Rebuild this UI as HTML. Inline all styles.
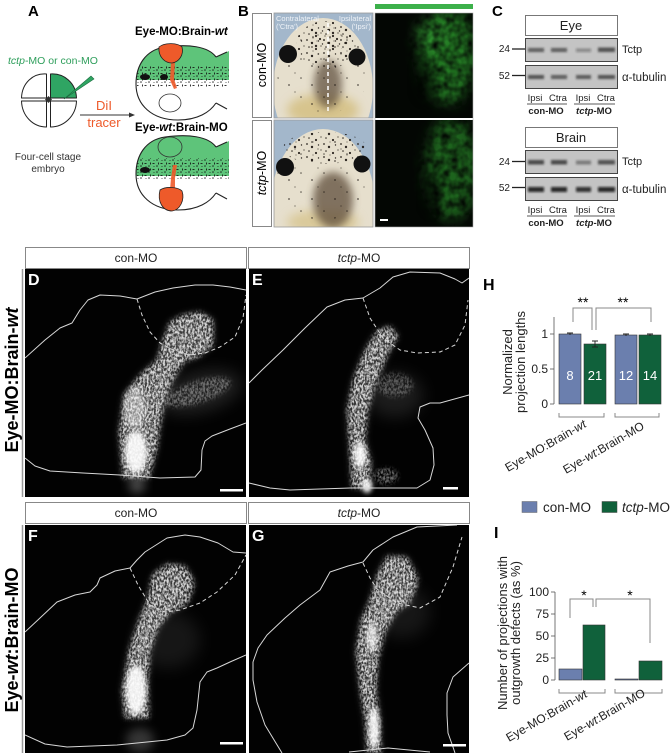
<!DOCTYPE html>
<html><head><meta charset="utf-8"><style>
html,body{margin:0;padding:0;background:#fff;}
svg{display:block;font-family:"Liberation Sans",Arial,sans-serif;}
</style></head><body>
<svg width="670" height="756" viewBox="0 0 670 756" xmlns="http://www.w3.org/2000/svg">
<defs>
 <filter id="tex" x="-30%" y="-30%" width="160%" height="160%">
  <feGaussianBlur in="SourceGraphic" stdDeviation="2" result="b"/>
  <feTurbulence type="fractalNoise" baseFrequency="0.55 0.35" numOctaves="2" seed="4" result="n"/>
  <feColorMatrix in="n" type="matrix" values="0 0 0 0 1  0 0 0 0 1  0 0 0 0 1  0 0 0 3.2 -1.1" result="m"/>
  <feComposite in="b" in2="m" operator="in"/>
 </filter>
 <filter id="bl2" x="-50%" y="-50%" width="200%" height="200%"><feGaussianBlur stdDeviation="2.5"/></filter>
 <filter id="bl4" x="-50%" y="-50%" width="200%" height="200%"><feGaussianBlur stdDeviation="4"/></filter>
 <filter id="bl5" x="-50%" y="-50%" width="200%" height="200%"><feGaussianBlur stdDeviation="5"/></filter>
 <filter id="bl8" x="-50%" y="-50%" width="200%" height="200%"><feGaussianBlur stdDeviation="8"/></filter>
 <filter id="bl1" x="-50%" y="-50%" width="200%" height="200%"><feGaussianBlur stdDeviation="1"/></filter>
 <filter id="gtex" x="-30%" y="-30%" width="160%" height="160%">
  <feGaussianBlur in="SourceGraphic" stdDeviation="7" result="b"/>
  <feTurbulence type="fractalNoise" baseFrequency="0.12" numOctaves="2" seed="7" result="n"/>
  <feColorMatrix in="n" type="matrix" values="0 0 0 0 1  0 0 0 0 1  0 0 0 0 1  0 0 0 1.6 -0.15" result="m"/>
  <feComposite in="b" in2="m" operator="in"/>
 </filter>
 <pattern id="pig" width="17" height="13" patternUnits="userSpaceOnUse">
  <circle cx="1" cy="1" r="0.9" fill="#1a1410"/><circle cx="6" cy="4" r="1.2" fill="#1a1410"/>
  <circle cx="12.5" cy="2" r="0.7" fill="#1a1410"/><circle cx="3" cy="8" r="0.8" fill="#1a1410"/>
  <circle cx="10" cy="10" r="1.1" fill="#1a1410"/><circle cx="15" cy="7" r="0.6" fill="#1a1410"/>
  <circle cx="7" cy="12" r="0.5" fill="#1a1410"/>
 </pattern>
 <pattern id="pig2" width="23" height="19" patternUnits="userSpaceOnUse">
  <circle cx="2" cy="2" r="0.8" fill="#1a1410"/><circle cx="13" cy="9" r="0.9" fill="#1a1410"/>
  <circle cx="19" cy="16" r="0.6" fill="#1a1410"/>
 </pattern>
 <pattern id="spk" width="8" height="6" patternUnits="userSpaceOnUse">
  <rect x="0.5" y="1" width="2" height="1" fill="#111"/><circle cx="5" cy="4" r="0.8" fill="#111"/>
  <rect x="6" y="0.5" width="1" height="2" fill="#111"/><circle cx="2" cy="4.5" r="0.5" fill="#111"/>
 </pattern>
 <clipPath id="h1"><path d="M216,57 C208,46 188,44 165,47 C145,50 136,66 136,84 C136,105 152,120 178,120 C198,120 210,112 216,103 L229,109 L229,51 Z"/></clipPath>
 <clipPath id="p1"><rect x="274" y="13" width="99" height="105"/></clipPath>
 <clipPath id="p2"><rect x="274" y="120" width="99" height="107"/></clipPath>
 <clipPath id="f1"><rect x="375" y="13" width="98" height="105"/></clipPath>
 <clipPath id="f2"><rect x="375" y="120" width="98" height="107"/></clipPath>
 <clipPath id="cD"><rect x="25" y="269" width="221" height="228"/></clipPath>
 <clipPath id="cE"><rect x="249" y="269" width="220" height="228"/></clipPath>
 <clipPath id="cF"><rect x="25" y="525" width="221" height="228"/></clipPath>
 <clipPath id="cG"><rect x="249" y="525" width="220" height="228"/></clipPath>
</defs>

<!-- ============ Panel A ============ -->
<text x="28" y="16" font-size="15" font-weight="bold">A</text>
<text x="8" y="64" font-size="10.5" fill="#2e9e5b"><tspan font-style="italic">tctp</tspan>-MO or con-MO</text>
<g stroke="#222" stroke-width="1" stroke-linejoin="round">
 <path d="M46.5,98 L46.5,74 C33,73 22,83 21.5,98 Z" fill="#fff"/>
 <path d="M50.5,98 L50.5,74 C64,73 76,83 76.5,98 Z" fill="#2fa563"/>
 <path d="M46.5,101 L21.5,101 C22,116 33,127 46.5,127 Z" fill="#fff"/>
 <path d="M50.5,101 L76.5,101 C76,116 64,127 50.5,127 Z" fill="#fff"/>
</g>
<path d="M48.5,96 L52,99.5 L48.5,103 L45,99.5 Z" fill="#333"/>
<polygon points="64,99 91,76 94,79" fill="#2fa563" stroke="#1a6b3e" stroke-width="0.6"/>
<text x="48" y="160" font-size="10" fill="#333" text-anchor="middle">Four-cell stage</text>
<text x="48" y="172" font-size="10" fill="#333" text-anchor="middle">embryo</text>
<line x1="80" y1="115" x2="131" y2="115" stroke="#333" stroke-width="1"/>
<polygon points="135,115 129,112.5 129,117.5" fill="#333"/>
<text x="104" y="110" font-size="13" fill="#ee5a2a" text-anchor="middle">DiI</text>
<text x="104" y="127" font-size="13" fill="#ee5a2a" text-anchor="middle">tracer</text>
<text x="135" y="35" font-size="11.5" font-weight="bold">Eye-MO:Brain-<tspan font-style="italic">wt</tspan></text>
<text x="135" y="131" font-size="11.5" font-weight="bold">Eye-<tspan font-style="italic">wt</tspan>:Brain-MO</text>

<!-- head 1 -->
<g>
 <g clip-path="url(#h1)">
  <rect x="130" y="40" width="100" height="40" fill="#5ec47a"/>
  <rect x="130" y="80" width="100" height="42" fill="#fff"/>
  <rect x="137" y="66" width="92" height="21" fill="url(#spk)" opacity="0.85"/>
  <ellipse cx="145" cy="77" rx="5" ry="3" fill="#111"/>
  <ellipse cx="164" cy="77" rx="4" ry="3" fill="#111"/>
 </g>
 <path d="M216,57 C208,46 188,44 165,47 C145,50 136,66 136,84 C136,105 152,120 178,120 C198,120 210,112 216,103" fill="none" stroke="#222" stroke-width="1.1"/>
 <path d="M216,57 L227,52 M216,103 L227,109" stroke="#222" stroke-width="1.1"/>
 <path d="M171,62 L170,80 L174,89 L177,88 L174,79 L175,62 Z" fill="#ee5a2a" opacity="0.9"/>
 <path d="M159,47 C165,42 178,43 182,47 C184,55 179,62 172,63 C165,63 158,57 159,47 Z" fill="#ee5a2a" stroke="#222" stroke-width="0.8"/>
 <ellipse cx="170" cy="103" rx="11" ry="9" fill="#fff" stroke="#333" stroke-width="0.8"/>
</g>
<!-- head 2 -->
<g transform="translate(0,90)">
 <g clip-path="url(#h1)">
  <rect x="130" y="40" width="100" height="46" fill="#5ec47a"/>
  <rect x="130" y="86" width="100" height="36" fill="#fff"/>
  <rect x="137" y="68" width="92" height="22" fill="url(#spk)" opacity="0.85"/>
  <ellipse cx="145" cy="80" rx="5" ry="3" fill="#111"/>
 </g>
 <path d="M216,57 C208,46 188,44 165,47 C145,50 136,66 136,84 C136,105 152,120 178,120 C198,120 210,112 216,103" fill="none" stroke="#222" stroke-width="1.1"/>
 <path d="M216,57 L227,52 M216,103 L227,109" stroke="#222" stroke-width="1.1"/>
 <ellipse cx="170" cy="57" rx="12" ry="10" fill="none" stroke="#333" stroke-width="0.8"/>
 <path d="M173,75 L171,88 L170,100 L175,100 L175,88 L177,75 Z" fill="#ee5a2a" opacity="0.9"/>
 <path d="M160,100 C166,96 178,97 182,101 C185,110 180,120 172,121 C163,121 157,112 160,100 Z" fill="#ee5a2a" stroke="#222" stroke-width="0.8"/>
</g>

<!-- ============ Panel B ============ -->
<text x="238" y="16" font-size="15" font-weight="bold">B</text>
<rect x="375" y="4" width="98" height="5" fill="#3cb04a"/>
<rect x="252.5" y="13.5" width="19" height="104" fill="#fff" stroke="#888" stroke-width="1"/>
<rect x="252.5" y="120.5" width="19" height="106" fill="#fff" stroke="#888" stroke-width="1"/>
<text transform="translate(266,65) rotate(-90)" font-size="12.5" text-anchor="middle">con-MO</text>
<text transform="translate(266,173) rotate(-90)" font-size="12.5" text-anchor="middle"><tspan font-style="italic">tctp</tspan>-MO</text>

<!-- photo 1 -->
<g clip-path="url(#p1)">
 <rect x="274" y="13" width="99" height="105" fill="#a3b7cb"/>
 <ellipse cx="323" cy="88" rx="50" ry="70" fill="#e6dfcd"/>
 <ellipse cx="323" cy="110" rx="36" ry="16" fill="#d2bb78" opacity="0.75" filter="url(#bl5)"/>
 <ellipse cx="328" cy="84" rx="14" ry="24" fill="#5a4a38" opacity="0.7" filter="url(#bl4)"/>
 <ellipse cx="326" cy="45" rx="30" ry="24" fill="url(#pig)" opacity="0.9"/>
 <ellipse cx="326" cy="36" rx="20" ry="12" fill="url(#pig)" opacity="0.9" transform="translate(4,3)"/>
 <ellipse cx="323" cy="72" rx="46" ry="42" fill="url(#pig2)" opacity="0.7"/>
 <circle cx="288" cy="54" r="9" fill="#111"/>
 <circle cx="357" cy="57" r="8.5" fill="#111"/>
 <line x1="328" y1="23" x2="328" y2="112" stroke="#fff" stroke-width="1.5" stroke-dasharray="4,3"/>
 <text x="276" y="21" font-size="7.5" fill="#eef2f7">Contralateral</text>
 <text x="276" y="29" font-size="7.5" fill="#eef2f7">('Ctra')</text>
 <text x="371" y="21" font-size="7.5" fill="#eef2f7" text-anchor="end">Ipsilateral</text>
 <text x="371" y="29" font-size="7.5" fill="#eef2f7" text-anchor="end">('Ipsi')</text>
</g>
<rect x="274" y="13" width="99" height="105" fill="none" stroke="#999" stroke-width="0.8"/>
<!-- photo 2 -->
<g clip-path="url(#p2)">
 <rect x="274" y="120" width="99" height="107" fill="#a3b7cb"/>
 <ellipse cx="323" cy="205" rx="52" ry="76" fill="#e6dfcd"/>
 <ellipse cx="323" cy="222" rx="36" ry="12" fill="#d2bb78" opacity="0.6" filter="url(#bl5)"/>
 <ellipse cx="333" cy="200" rx="20" ry="28" fill="#5e4d3a" opacity="0.75" filter="url(#bl4)"/>
 <ellipse cx="325" cy="148" rx="42" ry="16" fill="url(#pig)" opacity="0.9"/>
 <ellipse cx="323" cy="178" rx="46" ry="42" fill="url(#pig2)" opacity="0.7"/>
 <circle cx="285" cy="167" r="9" fill="#111"/>
 <circle cx="362" cy="164" r="8.5" fill="#111"/>
</g>
<rect x="274" y="120" width="99" height="107" fill="none" stroke="#999" stroke-width="0.8"/>
<!-- fluor 1 -->
<g clip-path="url(#f1)">
 <rect x="375" y="13" width="98" height="105" fill="#030603"/>
 <g filter="url(#gtex)">
  <ellipse cx="448" cy="55" rx="28" ry="48" fill="#2e9e2e" opacity="0.75"/>
  <ellipse cx="430" cy="35" rx="14" ry="14" fill="#3ab03a" opacity="0.6"/>
 </g>
 <ellipse cx="425" cy="80" rx="9" ry="20" fill="#030603" opacity="0.6" filter="url(#bl5)"/>
</g>
<!-- fluor 2 -->
<g clip-path="url(#f2)">
 <rect x="375" y="120" width="98" height="107" fill="#030603"/>
 <g filter="url(#gtex)">
  <ellipse cx="452" cy="168" rx="26" ry="52" fill="#2a962a" opacity="0.65"/>
 </g>
 <ellipse cx="432" cy="192" rx="8" ry="20" fill="#030603" opacity="0.6" filter="url(#bl5)"/>
 <rect x="380" y="219" width="8" height="2" fill="#fff"/>
</g>
<rect x="375" y="13" width="98" height="214" fill="none" stroke="#aaa" stroke-width="0.6"/>

<!-- ============ Panel C ============ -->
<text x="492" y="16" font-size="15" font-weight="bold">C</text>
<g font-size="9.5" fill="#222">
 <rect x="525.5" y="15.5" width="92" height="20" fill="#fff" stroke="#777"/>
 <text x="571" y="30" font-size="13" text-anchor="middle">Eye</text>
 <rect x="525.5" y="38.5" width="92" height="23" fill="#c4c4c4" stroke="#444"/>
 <rect x="525.5" y="65.5" width="92" height="23" fill="#c4c4c4" stroke="#444"/>
 <g filter="url(#bl1)">
  <rect x="528" y="48" width="16" height="4" fill="#222" opacity="0.6"/>
  <rect x="551" y="48" width="16" height="4" fill="#222" opacity="0.6"/>
  <rect x="576" y="48.5" width="15" height="3.5" fill="#222" opacity="0.35"/>
  <rect x="598" y="47.5" width="17" height="4.5" fill="#222" opacity="0.7"/>
  <rect x="528" y="75" width="16" height="4" fill="#222" opacity="0.7"/>
  <rect x="551" y="75" width="16" height="4" fill="#222" opacity="0.6"/>
  <rect x="576" y="75" width="15" height="4" fill="#222" opacity="0.65"/>
  <rect x="598" y="75" width="17" height="4" fill="#222" opacity="0.7"/>
 </g>
 <text x="510" y="52" text-anchor="end" font-size="10">24</text>
 <line x1="512" y1="49" x2="525" y2="49" stroke="#222" stroke-width="1.3"/>
 <text x="510" y="79" text-anchor="end" font-size="10">52</text>
 <line x1="512" y1="75.5" x2="525" y2="75.5" stroke="#222" stroke-width="1.3"/>
 <text x="622" y="53" font-size="11">Tctp</text>
 <text x="622" y="81" font-size="11.5">α-tubulin</text>
 <text x="535" y="101" text-anchor="middle">Ipsi</text>
 <text x="558" y="101" text-anchor="middle">Ctra</text>
 <text x="583" y="101" text-anchor="middle">Ipsi</text>
 <text x="606" y="101" text-anchor="middle">Ctra</text>
 <line x1="527" y1="104" x2="567" y2="104" stroke="#222" stroke-width="0.8"/>
 <line x1="574" y1="104" x2="615" y2="104" stroke="#222" stroke-width="0.8"/>
 <text x="546" y="114" text-anchor="middle" font-weight="bold">con-MO</text>
 <text x="594" y="114" text-anchor="middle" font-weight="bold"><tspan font-style="italic">tctp</tspan>-MO</text>

 <rect x="525.5" y="127.5" width="92" height="20" fill="#fff" stroke="#777"/>
 <text x="571" y="142" font-size="13" text-anchor="middle">Brain</text>
 <rect x="525.5" y="150.5" width="92" height="23" fill="#c4c4c4" stroke="#444"/>
 <rect x="525.5" y="177.5" width="92" height="23" fill="#c4c4c4" stroke="#444"/>
 <g filter="url(#bl1)">
  <rect x="528" y="160" width="16" height="4.5" fill="#222" opacity="0.75"/>
  <rect x="551" y="160" width="16" height="4.5" fill="#222" opacity="0.75"/>
  <rect x="576" y="160.5" width="15" height="4" fill="#222" opacity="0.45"/>
  <rect x="598" y="160" width="17" height="4.5" fill="#222" opacity="0.7"/>
  <rect x="528" y="187" width="16" height="5" fill="#111" opacity="0.85"/>
  <rect x="551" y="187" width="16" height="5" fill="#111" opacity="0.85"/>
  <rect x="576" y="187" width="15" height="5" fill="#111" opacity="0.8"/>
  <rect x="598" y="187" width="17" height="5" fill="#111" opacity="0.85"/>
 </g>
 <text x="510" y="165" text-anchor="end" font-size="10">24</text>
 <line x1="512" y1="161.5" x2="525" y2="161.5" stroke="#222" stroke-width="1.3"/>
 <text x="510" y="191" text-anchor="end" font-size="10">52</text>
 <line x1="512" y1="187.5" x2="525" y2="187.5" stroke="#222" stroke-width="1.3"/>
 <text x="622" y="165" font-size="11">Tctp</text>
 <text x="622" y="193" font-size="11.5">α-tubulin</text>
 <text x="535" y="213" text-anchor="middle">Ipsi</text>
 <text x="558" y="213" text-anchor="middle">Ctra</text>
 <text x="583" y="213" text-anchor="middle">Ipsi</text>
 <text x="606" y="213" text-anchor="middle">Ctra</text>
 <line x1="527" y1="216" x2="567" y2="216" stroke="#222" stroke-width="0.8"/>
 <line x1="574" y1="216" x2="615" y2="216" stroke="#222" stroke-width="0.8"/>
 <text x="546" y="226" text-anchor="middle" font-weight="bold">con-MO</text>
 <text x="594" y="226" text-anchor="middle" font-weight="bold"><tspan font-style="italic">tctp</tspan>-MO</text>
</g>

<!-- ============ Panels D-G ============ -->
<g font-size="12" fill="#222">
 <rect x="25.5" y="247.5" width="221" height="21" fill="#fff" stroke="#888"/>
 <rect x="248.5" y="247.5" width="221" height="21" fill="#fff" stroke="#888"/>
 <text x="136" y="262" text-anchor="middle">con-MO</text>
 <text x="359" y="262" text-anchor="middle"><tspan font-style="italic">tctp</tspan>-MO</text>
 <rect x="25.5" y="502.5" width="221" height="21" fill="#fff" stroke="#888"/>
 <rect x="248.5" y="502.5" width="221" height="21" fill="#fff" stroke="#888"/>
 <text x="136" y="517" text-anchor="middle">con-MO</text>
 <text x="359" y="517" text-anchor="middle"><tspan font-style="italic">tctp</tspan>-MO</text>
</g>
<line x1="22.5" y1="269" x2="22.5" y2="497" stroke="#999" stroke-width="1.5"/>
<line x1="22.5" y1="525" x2="22.5" y2="753" stroke="#999" stroke-width="1.5"/>
<text transform="translate(18,380) rotate(-90)" font-size="18" font-weight="bold" text-anchor="middle">Eye-MO:Brain-<tspan font-style="italic">wt</tspan></text>
<text transform="translate(18,640) rotate(-90)" font-size="18" font-weight="bold" text-anchor="middle">Eye-<tspan font-style="italic">wt</tspan>:Brain-MO</text>

<!-- D -->
<g clip-path="url(#cD)">
 <rect x="25" y="269" width="221" height="228" fill="#020202"/>
 <ellipse cx="200" cy="392" rx="42" ry="20" transform="rotate(-15 200 392)" fill="#fff" opacity="0.12" filter="url(#bl8)"/>
 <polygon points="123,478 149,478 157,448 161,420 166,396 175,376 184,362 200,356 213,345 213,320 200,312 183,315 170,322 163,340 157,360 140,375 124,395 119,432" fill="#fff" opacity="0.22" filter="url(#bl4)"/>
 <g filter="url(#tex)" fill="#d8d8d8">
  <polygon points="123,478 149,478 157,448 161,420 166,396 175,376 184,362 200,356 213,345 213,320 200,312 183,315 170,322 163,340 157,360 140,375 124,395 119,432"/>
  <ellipse cx="198" cy="392" rx="34" ry="11" transform="rotate(-18 198 392)" opacity="0.45"/>
  <ellipse cx="192" cy="333" rx="20" ry="16"/>
 </g>
 <ellipse cx="136" cy="452" rx="11" ry="21" fill="#fff" opacity="0.9" filter="url(#bl2)"/>
 <ellipse cx="135" cy="408" rx="11" ry="22" fill="#fff" opacity="0.4" filter="url(#bl2)"/>
 <ellipse cx="137" cy="485" rx="8" ry="8" fill="#fff" opacity="0.3" filter="url(#bl5)"/>
 <g fill="none" stroke="#d8d8d8" stroke-width="1" stroke-linejoin="round">
  <polyline points="25,358 45,340 60,328 72,323 80,310 88,300 100,295 120,296 137,299 155,292 173,288 195,285 213,285 230,287 246,290"/>
  <polyline points="25,458 35,466 50,471 83,473 120,475 160,478 195,477 201,470 202,450 205,441 212,436 230,429 246,423"/>
  <polyline points="137,299 142,315 150,332 160,343 175,351 190,355 205,353 220,347 235,337 243,318 246,295" stroke-dasharray="4,3"/>
 </g>
 <rect x="220" y="489" width="23" height="2.5" fill="#fff"/>
 <text x="28" y="285" font-size="16" font-weight="bold" fill="#fff">D</text>
</g>
<!-- E -->
<g clip-path="url(#cE)">
 <rect x="249" y="269" width="220" height="228" fill="#020202"/>
 <ellipse cx="395" cy="395" rx="28" ry="22" fill="#fff" opacity="0.1" filter="url(#bl8)"/>
 <polygon points="352,488 370,488 371,462 365,440 368,410 376,382 388,354 398,336 390,326 377,331 365,350 353,380 347,410 349,440" fill="#fff" opacity="0.2" filter="url(#bl4)"/>
 <g filter="url(#tex)" fill="#d8d8d8">
  <polygon points="352,488 370,488 371,462 365,440 368,410 376,382 388,354 398,336 390,326 377,331 365,350 353,380 347,410 349,440"/>
  <ellipse cx="386" cy="476" rx="12" ry="8" opacity="0.5"/>
  <ellipse cx="395" cy="385" rx="18" ry="12" opacity="0.35"/>
 </g>
 <ellipse cx="360" cy="455" rx="6" ry="13" fill="#fff" opacity="0.9" filter="url(#bl2)"/>
 <ellipse cx="367" cy="486" rx="5" ry="7" fill="#fff" opacity="0.9" filter="url(#bl2)"/>
 <g fill="none" stroke="#d8d8d8" stroke-width="1" stroke-linejoin="round">
  <polyline points="249,383 262,370 283,350 305,328 327,307 345,300 363,298 380,288 393,277 410,272 440,273 455,279 462,283 469,278"/>
  <polyline points="363,298 370,318 383,338 400,350 417,353 440,352 455,345 465,325 468,300" stroke-dasharray="4,3"/>
  <polyline points="249,483 270,488 290,490 350,488 417,488 430,480 434,465 433,448 425,430 418,418 420,407 430,403 440,403 469,395"/>
 </g>
 <rect x="443" y="487" width="15" height="2.5" fill="#fff"/>
 <text x="252" y="285" font-size="16" font-weight="bold" fill="#fff">E</text>
</g>
<!-- F -->
<g clip-path="url(#cF)">
 <rect x="25" y="525" width="221" height="228" fill="#020202"/>
 <ellipse cx="168" cy="640" rx="32" ry="28" fill="#fff" opacity="0.08" filter="url(#bl8)"/>
 <polygon points="125,718 149,718 148,682 150,652 158,628 170,613 188,603 194,582 185,566 167,564 153,575 147,600 139,620 129,650 122,690" fill="#fff" opacity="0.2" filter="url(#bl4)"/>
 <g filter="url(#tex)" fill="#d8d8d8">
  <polygon points="125,718 149,718 148,682 150,652 158,628 170,613 188,603 194,582 185,566 167,564 153,575 147,600 139,620 129,650 122,690"/>
  <ellipse cx="172" cy="585" rx="22" ry="20" opacity="0.6"/>
 </g>
 <ellipse cx="136" cy="690" rx="10" ry="25" fill="#fff" opacity="0.9" filter="url(#bl2)"/>
 <ellipse cx="140" cy="740" rx="14" ry="12" fill="#fff" opacity="0.2" filter="url(#bl5)"/>
 <g fill="none" stroke="#d8d8d8" stroke-width="1" stroke-linejoin="round">
  <polyline points="25,632 40,618 57,602 75,595 90,592 97,585 100,578 115,571 130,568 137,560 145,552 167,538 185,535 200,537 218,543 233,552 246,553"/>
  <polyline points="130,568 138,585 150,605 165,612 180,610 200,603 217,592 235,575 246,555" stroke-dasharray="4,3"/>
  <polyline points="25,735 45,744 67,747 117,745 167,740 185,735 193,728 197,710 200,682 207,672 217,668 230,662 246,655"/>
 </g>
 <rect x="220" y="742" width="23" height="2.5" fill="#fff"/>
 <text x="28" y="541" font-size="16" font-weight="bold" fill="#fff">F</text>
</g>
<!-- G -->
<g clip-path="url(#cG)">
 <rect x="249" y="525" width="220" height="228" fill="#020202"/>
 <ellipse cx="402" cy="612" rx="28" ry="26" fill="#fff" opacity="0.08" filter="url(#bl8)"/>
 <polygon points="367,753 381,753 380,720 376,690 378,660 385,632 396,612 410,603 418,578 407,557 387,556 377,575 370,600 361,620 356,650 360,690 365,720" fill="#fff" opacity="0.2" filter="url(#bl4)"/>
 <g filter="url(#tex)" fill="#d8d8d8">
  <polygon points="367,753 381,753 380,720 376,690 378,660 385,632 396,612 410,603 418,578 407,557 387,556 377,575 370,600 361,620 356,650 360,690 365,720"/>
  <ellipse cx="398" cy="582" rx="20" ry="20" opacity="0.5"/>
 </g>
 <ellipse cx="374" cy="728" rx="5" ry="21" fill="#fff" opacity="0.9" filter="url(#bl2)"/>
 <ellipse cx="372" cy="637" rx="5" ry="15" fill="#fff" opacity="0.7" filter="url(#bl2)"/>
 <g fill="none" stroke="#d8d8d8" stroke-width="1" stroke-linejoin="round">
  <polyline points="282,753 265,725 257,702 253,680 253,662 258,648 267,635 285,618 300,605 320,590 330,572 348,566 363,562 373,550 393,537 417,527 457,525"/>
  <polyline points="363,563 370,578 377,589 397,603 420,608 440,597 453,567 462,537" stroke-dasharray="4,3"/>
  <polyline points="469,663 453,677 447,693 447,715 448,733 453,747 455,753"/>
  <polyline points="349,752 388,748 430,752"/>
 </g>
 <rect x="443" y="744" width="23" height="2.5" fill="#fff"/>
 <text x="252" y="541" font-size="16" font-weight="bold" fill="#fff">G</text>
</g>

<!-- ============ Panel H ============ -->
<text x="483" y="290" font-size="16" font-weight="bold">H</text>
<text transform="translate(512,362) rotate(-90)" font-size="13" text-anchor="middle" fill="#222">Normalized</text>
<text transform="translate(525,362) rotate(-90)" font-size="13" text-anchor="middle" fill="#222">projection lengths</text>
<g stroke="#555" stroke-width="0.8">
 <line x1="554" y1="317" x2="554" y2="404"/>
 <line x1="550" y1="334" x2="554" y2="334"/>
 <line x1="550" y1="369" x2="554" y2="369"/>
 <line x1="550" y1="404" x2="554" y2="404"/>
</g>
<g font-size="12" text-anchor="end" fill="#222">
 <text x="548" y="338">1</text><text x="548" y="373">0.5</text><text x="548" y="408">0</text>
</g>
<g stroke="#333" stroke-width="0.6">
 <rect x="559" y="334" width="22" height="70" fill="#6b7fae"/>
 <rect x="584" y="344" width="22" height="60" fill="#10613b"/>
 <rect x="615" y="335" width="22" height="69" fill="#6b7fae"/>
 <rect x="639" y="335" width="22" height="69" fill="#10613b"/>
</g>
<g stroke="#222" stroke-width="0.9">
 <path d="M567,333 H573 M570,333 V335"/>
 <path d="M592,341 H598 M595,341 V347 M592,347 H598"/>
 <path d="M623,334 H629 M626,334 V336"/>
 <path d="M647,334 H653 M650,334 V336"/>
</g>
<g font-size="13" fill="#fff" text-anchor="middle">
 <text x="570" y="380">8</text><text x="595" y="380">21</text><text x="626" y="380">12</text><text x="650" y="380">14</text>
</g>
<g fill="none" stroke="#888" stroke-width="1">
 <path d="M573,322 V308 H592 V330"/>
 <path d="M596,330 V308 H651 V322"/>
 <path d="M559,413 V417 H604 V413"/>
 <path d="M615,413 V417 H659 V413"/>
</g>
<text x="583" y="307" font-size="14" text-anchor="middle">**</text>
<text x="623" y="307" font-size="14" text-anchor="middle">**</text>
<text transform="translate(508,472) rotate(-30)" font-size="12" fill="#222">Eye-MO:Brain-<tspan font-style="italic">wt</tspan></text>
<text transform="translate(566,474) rotate(-30)" font-size="12" fill="#222">Eye-<tspan font-style="italic">wt</tspan>:Brain-MO</text>

<!-- legend -->
<rect x="522" y="501.5" width="15" height="11" fill="#6b7fae" stroke="#666" stroke-width="0.5"/>
<text x="543" y="512" font-size="13.5" fill="#222">con-MO</text>
<rect x="602" y="501.5" width="15" height="11" fill="#10613b" stroke="#444" stroke-width="0.5"/>
<text x="622" y="512" font-size="13.5" fill="#222"><tspan font-style="italic">tctp</tspan>-MO</text>

<!-- ============ Panel I ============ -->
<text x="494" y="538" font-size="16" font-weight="bold">I</text>
<text transform="translate(507,633) rotate(-90)" font-size="13" text-anchor="middle" fill="#222">Number of projections with</text>
<text transform="translate(520,633) rotate(-90)" font-size="13" text-anchor="middle" fill="#222">outgrowth  defects (as %)</text>
<g stroke="#555" stroke-width="0.8">
 <line x1="555" y1="592" x2="555" y2="680"/>
 <line x1="551" y1="592" x2="555" y2="592"/>
 <line x1="551" y1="614" x2="555" y2="614"/>
 <line x1="551" y1="636" x2="555" y2="636"/>
 <line x1="551" y1="658" x2="555" y2="658"/>
 <line x1="551" y1="680" x2="555" y2="680"/>
</g>
<g font-size="12" text-anchor="end" fill="#222">
 <text x="549" y="596">100</text><text x="549" y="618">75</text><text x="549" y="640">50</text><text x="549" y="662">25</text><text x="549" y="684">0</text>
</g>
<g stroke="#333" stroke-width="0.6">
 <rect x="559" y="669" width="23" height="11" fill="#6b7fae"/>
 <rect x="583" y="625" width="22" height="55" fill="#10613b"/>
 <rect x="615" y="679" width="23" height="1" fill="#6b7fae"/>
 <rect x="639" y="661" width="23" height="19" fill="#10613b"/>
</g>
<g fill="none" stroke="#888" stroke-width="1">
 <path d="M570,618 V599 H593 V607"/>
 <path d="M596,607 V599 H650 V643"/>
 <path d="M559,689 V693 H605 V689"/>
 <path d="M615,689 V693 H662 V689"/>
</g>
<text x="584" y="600" font-size="14" text-anchor="middle">*</text>
<text x="630" y="600" font-size="14" text-anchor="middle">*</text>
<text transform="translate(509,742) rotate(-30)" font-size="12" fill="#222">Eye-MO:Brain-<tspan font-style="italic">wt</tspan></text>
<text transform="translate(567,741) rotate(-30)" font-size="12" fill="#222">Eye-<tspan font-style="italic">wt</tspan>:Brain-MO</text>
</svg>
</body></html>
